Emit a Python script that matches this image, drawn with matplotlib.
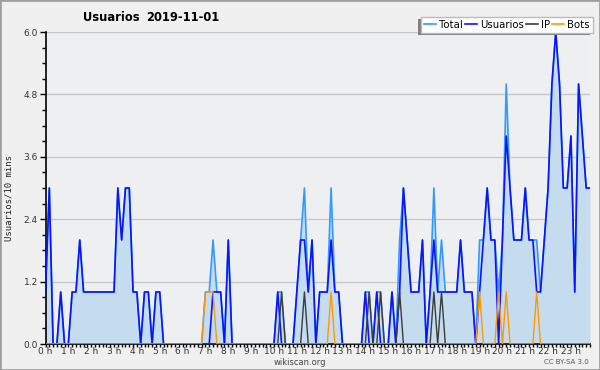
import numpy as np
import matplotlib
matplotlib.use("Agg")
import matplotlib.pyplot as plt
from matplotlib.patches import Rectangle
from matplotlib.lines import Line2D

# ---- data (10-minute buckets, 2019-11-01) ----
hour_labels = [f"{h} h" for h in range(24)]
usuarios = [1,3,0,0,1,0, 0,1,1,2,1,1, 1,1,1,1,1,1, 1,3,2,3,3,1,
            1,0,1,1,0,1, 1,0,0,0,0,0, 0,0,0,0,0,0, 0,0,1,1,1,0,
            2,0,0,0,0,0, 0,0,0,0,0,0, 0,1,0,0,0,0, 1,2,2,1,2,0,
            1,1,1,2,1,1, 0,0,0,0,0,0, 1,0,0,1,0,0, 0,1,0,1,3,2,
            1,1,1,2,0,1, 2,1,1,1,1,1, 1,2,1,1,1,0, 1,2,3,2,2,0,
            2,4,3,2,2,2, 3,2,2,1,1,2, 3,5,6,5,3,3, 4,1,5,4,3,3]
ip = [0,0,0,0,0,0, 0,0,0,0,0,0, 0,0,0,0,0,0, 0,0,0,0,0,0,
      0,0,0,0,0,0, 0,0,0,0,0,0, 0,0,0,0,0,0, 0,0,0,0,0,0,
      0,0,0,0,0,0, 0,0,0,0,0,0, 0,0,1,0,0,0, 0,0,1,0,0,0,
      0,0,0,0,0,0, 0,0,0,0,0,0, 0,1,0,0,1,0, 0,0,0,1,0,0,
      0,0,0,0,0,0, 1,0,1,0,0,0, 0,0,0,0,0,0, 0,0,0,0,0,0,
      0,0,0,0,0,0, 0,0,0,0,0,0, 0,0,0,0,0,0, 0,0,0,0,0,0]
bots = [0,0,0,0,0,0, 0,0,0,0,0,0, 0,0,0,0,0,0, 0,0,0,0,0,0,
        0,0,0,0,0,0, 0,0,0,0,0,0, 0,0,0,0,0,0, 1,1,1,0,0,0,
        0,0,0,0,0,0, 0,0,0,0,0,0, 0,0,0,0,0,0, 0,0,0,0,0,0,
        0,0,0,1,0,0, 0,0,0,0,0,0, 0,0,0,0,0,0, 0,0,0,0,0,0,
        0,0,0,0,0,0, 0,0,0,0,0,0, 0,0,0,0,0,0, 1,0,0,0,0,1,
        0,1,0,0,0,0, 0,0,0,1,0,0, 0,0,0,0,0,0, 0,0,0,0,0,0]
total = [1,3,0,0,1,0, 0,1,1,2,1,1, 1,1,1,1,1,1, 1,3,2,3,3,1,
         1,0,1,1,0,1, 1,0,0,0,0,0, 0,0,0,0,0,0, 1,1,2,1,1,0,
         2,0,0,0,0,0, 0,0,0,0,0,0, 0,1,1,0,0,0, 1,2,3,1,2,0,
         1,1,1,3,1,1, 0,0,0,0,0,0, 1,1,0,1,1,0, 0,1,0,2,3,2,
         1,1,1,2,0,1, 3,1,2,1,1,1, 1,2,1,1,1,0, 2,2,3,2,2,1,
         2,5,3,2,2,2, 3,2,2,2,1,2, 3,5,6,5,3,3, 4,1,5,4,3,3]
y_ticks = [0.0, 1.2, 2.4, 3.6, 4.8, 6.0]

W, H = 600, 370
fig = plt.figure(figsize=(W/100, H/100), dpi=100, facecolor="#f0f0f0")
fig.patches.append(Rectangle((0, 0), 1, 1, transform=fig.transFigure,
                             fill=False, edgecolor="#a0a0a0", lw=2, zorder=10))

L, R, B, T = 45.5, 590, 344, 32
ax = fig.add_axes([L/W, 1-B/H, (R-L)/W, (B-T)/H])
ax.set_facecolor("#eeeff1")

x = np.arange(len(total))
ax.fill_between(x, 0, total, color="#c5dcef", lw=0, zorder=1)
ax.plot(x, total, color="#3399ff", lw=1.2, zorder=2)
ax.plot(x, usuarios, color="#0a14ff", lw=1.2, zorder=3)
ax.plot(x, ip, color="#3c3c3c", lw=1.0, zorder=4)
ax.plot(x, bots, color="#ff9900", lw=1.0, zorder=5)

ax.set_xlim(0, len(total)-1)
ax.set_ylim(0, 6.0)
ax.set_yticks(y_ticks)
ax.set_yticklabels([f"{v:.1f}" for v in y_ticks])
ax.set_yticks(np.arange(0, 6.01, 0.3), minor=True)
ax.set_xticks(np.arange(0, 144, 6))
ax.set_xticklabels(hour_labels)
ax.set_xticks(np.arange(0, 144, 1), minor=True)
ax.grid(axis="y", which="major", color="#c8c8c8", lw=1, zorder=0)
ax.set_axisbelow(True)
for s in ("top", "right"):
    ax.spines[s].set_visible(False)
ax.spines["left"].set_linewidth(1.2)
ax.spines["bottom"].set_linewidth(1.2)
ax.tick_params(axis="y", which="major", length=4, width=1, labelsize=6.5,
               colors="black", pad=1.5, labelcolor="#333333")
ax.tick_params(axis="y", which="minor", length=3, width=1)
ax.tick_params(axis="x", which="major", length=2.5, width=1, labelsize=6.5,
               colors="black", pad=0, labelcolor="#333333")
ax.tick_params(axis="x", which="minor", length=2.5, width=1)

fig.text(83/W, 1-21/H, "Usuarios", fontsize=8.3, fontweight="bold",
         family="DejaVu Sans", ha="left", va="baseline")
fig.text(146/W, 1-21/H, "2019-11-01", fontsize=8.3, fontweight="bold",
         family="DejaVu Sans", ha="left", va="baseline")
fig.text(9/W, 1-198/H, "Usuarios/10 mins", rotation=90, fontsize=6.5,
         family="DejaVu Sans Mono", ha="center", va="center", color="#222222")
fig.text(300/W, 1-362.5/H, "wikiscan.org", fontsize=6, ha="center", va="center",
         color="#444444")
fig.text(589/W, 1-362.5/H, "CC BY-SA 3.0", fontsize=5, ha="right", va="center",
         color="#555555")

handles = [Line2D([], [], color=c, lw=1.2) for c in
           ("#3399ff", "#0a14ff", "#3c3c3c", "#ff9900")]
leg = fig.legend(handles, ["Total", "Usuarios", "IP", "Bots"], ncol=4,
                 loc="upper right", bbox_to_anchor=(593/W, 1-17/H),
                 fontsize=7.3, frameon=True, fancybox=False, handlelength=1.2,
                 handletextpad=0.3, columnspacing=0.2, borderpad=0.3,
                 borderaxespad=0)
leg.get_frame().set_edgecolor("#bbbbbb")
leg.get_frame().set_facecolor("white")
leg.get_frame().set_alpha(1)
leg.set_zorder(6)
fig.canvas.draw()
bb = leg.get_window_extent()
fig.patches.append(Rectangle((bb.x0-3, bb.y0-2), bb.width, bb.height,
                             transform=None, facecolor="#808080",
                             edgecolor="none", zorder=5))
fig.savefig("out.png", dpi=100, facecolor=fig.get_facecolor())
